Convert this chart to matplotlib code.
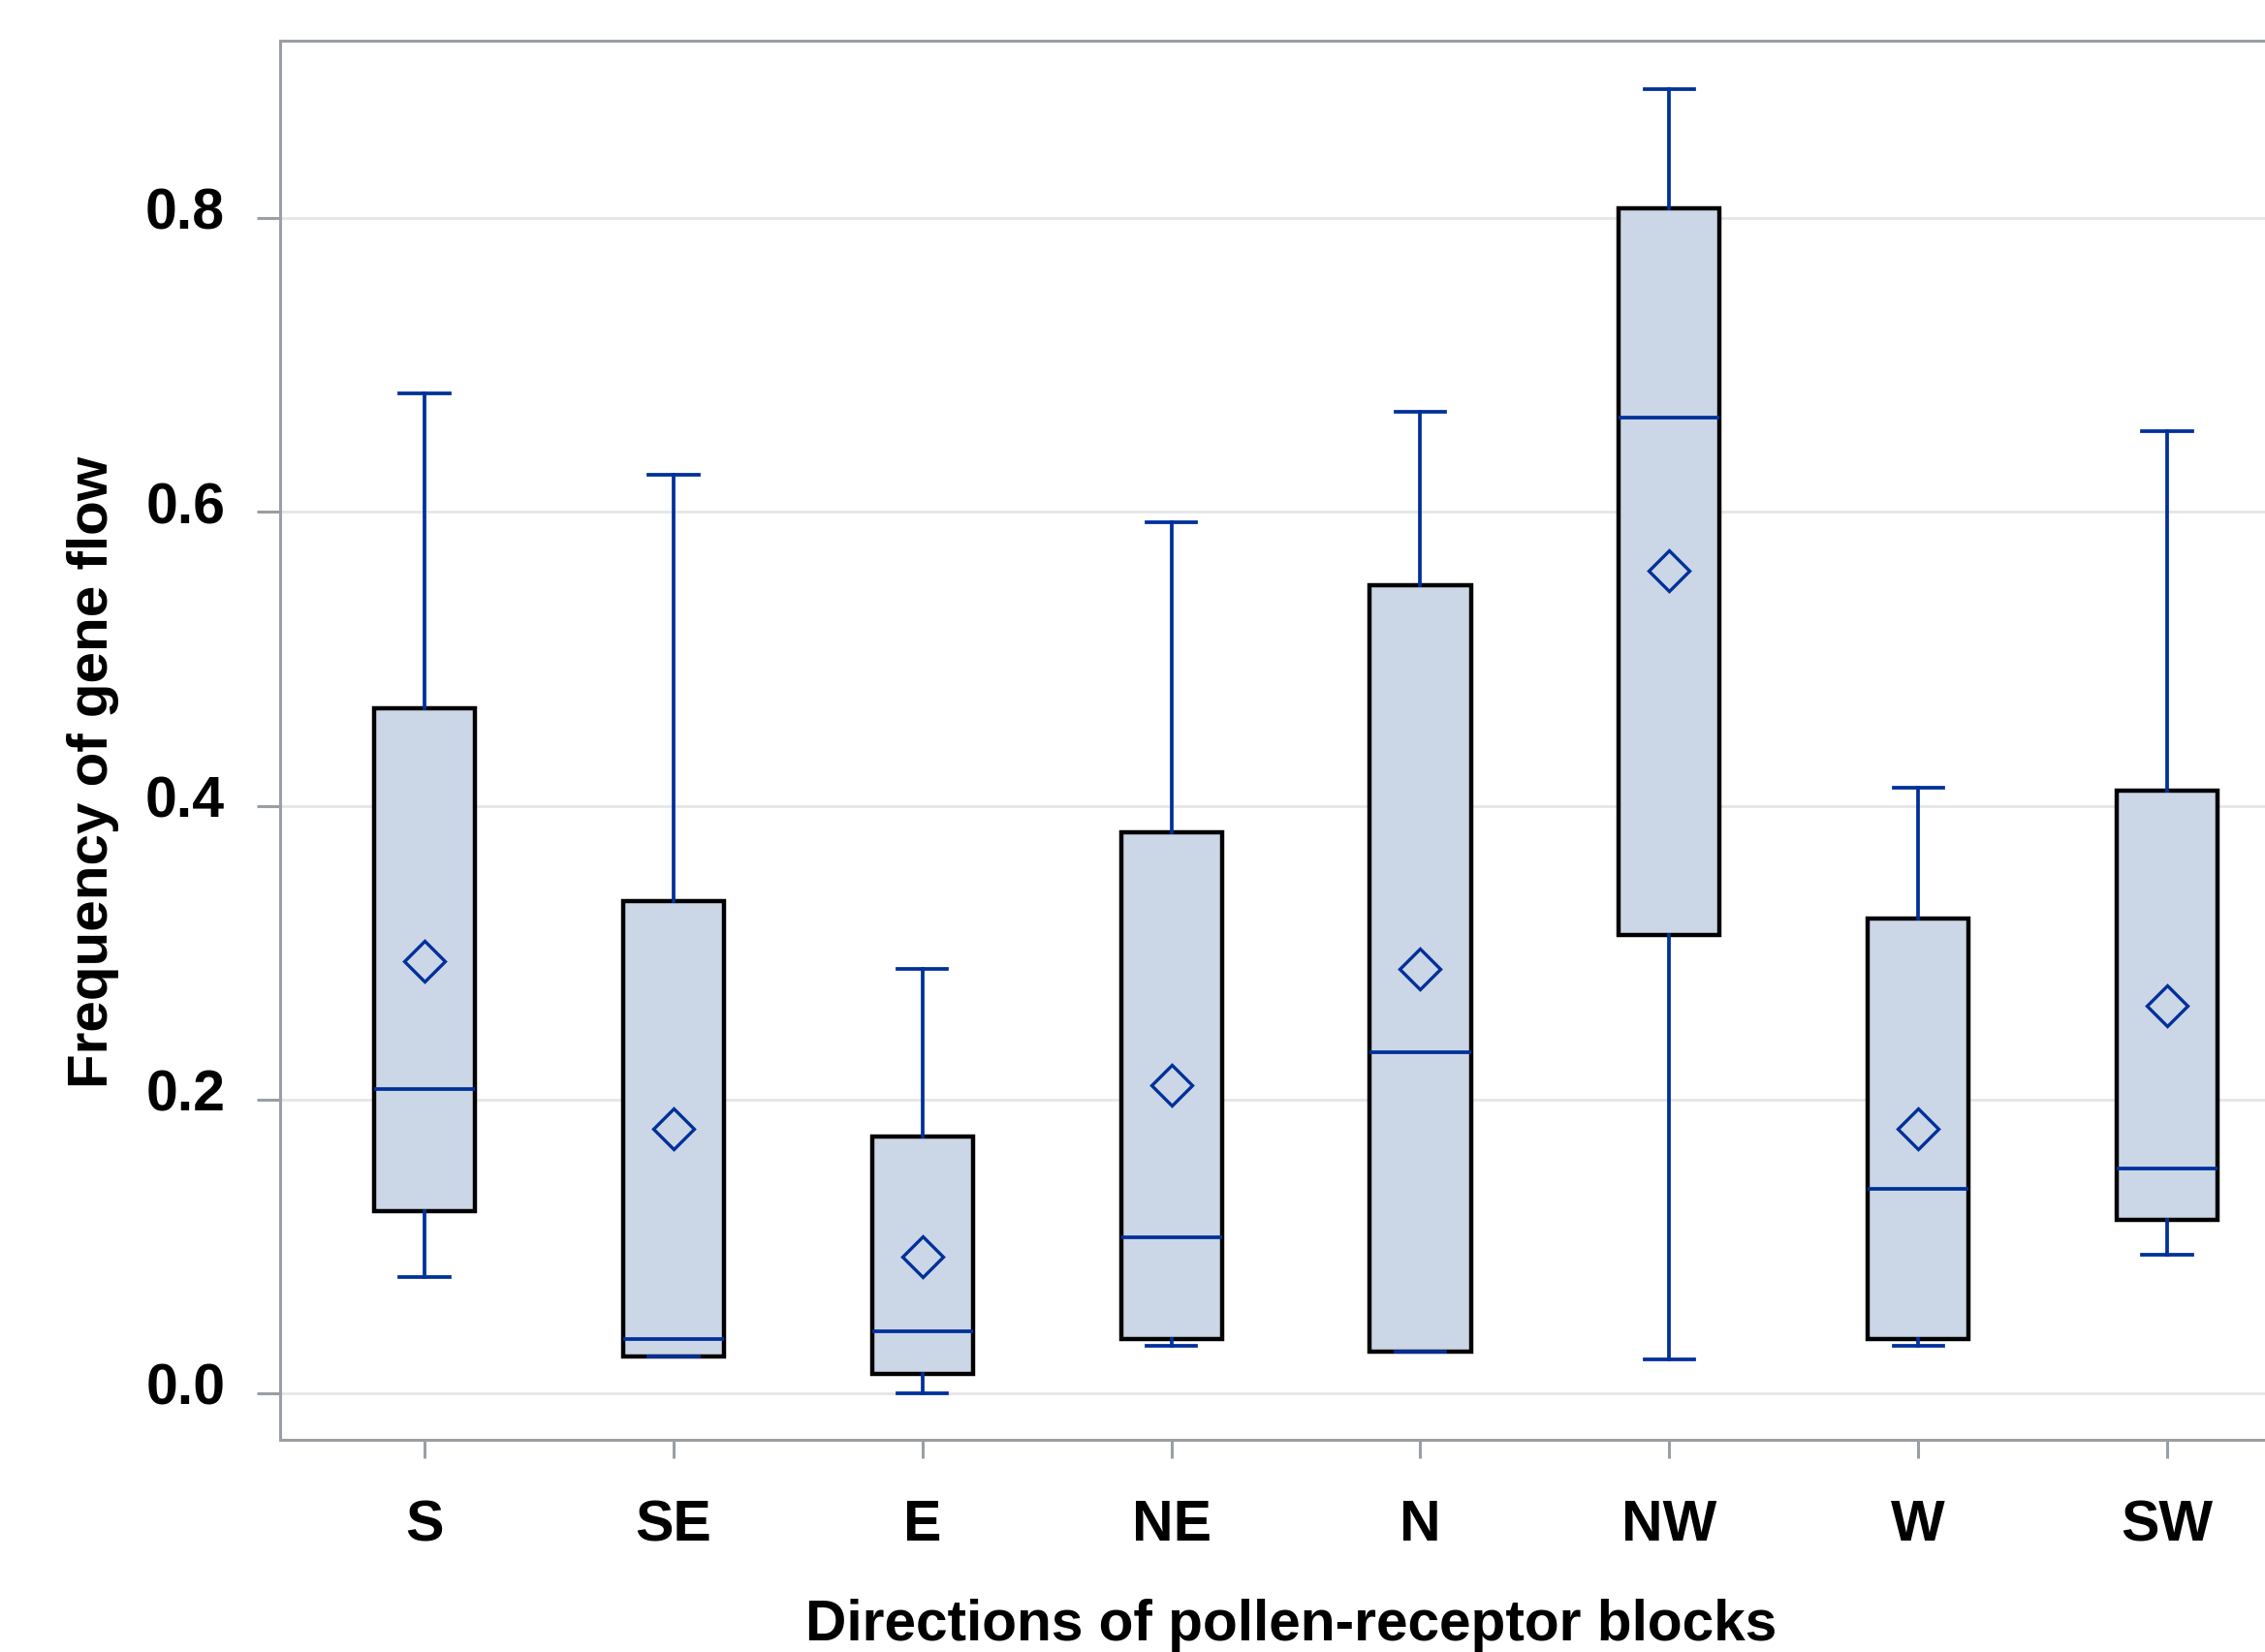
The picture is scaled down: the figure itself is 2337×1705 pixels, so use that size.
import matplotlib.pyplot as plt
import matplotlib.transforms as mtransforms

plt.rcParams['font.family'] = ['Liberation Sans', 'DejaVu Sans']

directions = ['S', 'SE', 'E', 'NE', 'N', 'NW', 'W', 'SW']
whisker_low = [0.079, 0.025, 0.000, 0.032, 0.028, 0.023, 0.032, 0.094]
q1 = [0.124, 0.025, 0.013, 0.037, 0.028, 0.312, 0.037, 0.118]
median = [0.207, 0.037, 0.042, 0.106, 0.232, 0.664, 0.139, 0.153]
q3 = [0.466, 0.335, 0.175, 0.382, 0.550, 0.807, 0.323, 0.410]
whisker_high = [0.681, 0.625, 0.289, 0.593, 0.668, 0.888, 0.412, 0.655]
mean = [0.294, 0.180, 0.093, 0.210, 0.289, 0.560, 0.180, 0.264]

blue = '#00309a'
grey = '#9a9fa4'

stats = []
for i, name in enumerate(directions):
    stats.append({'label': name, 'whislo': whisker_low[i], 'q1': q1[i],
                  'med': median[i], 'q3': q3[i], 'whishi': whisker_high[i],
                  'mean': mean[i], 'fliers': []})

fig = plt.figure(figsize=(23.37, 17.05), dpi=100)
ax = fig.add_axes([0.1237, 0.1285, 0.8763, 0.847])

pos = list(range(1, len(directions) + 1))
ax.bxp(stats, positions=pos, widths=0.405, capwidths=0.2, patch_artist=True,
       showmeans=True, showfliers=False,
       boxprops=dict(facecolor='#cbd6e6', edgecolor='black', linewidth=3.2),
       whiskerprops=dict(color=blue, linewidth=2.7),
       capprops=dict(color=blue, linewidth=2.7, zorder=3),
       medianprops=dict(color=blue, linewidth=2.7, zorder=3),
       meanprops=dict(marker='D', markersize=21, markerfacecolor='none',
                      markeredgecolor=blue, markeredgewidth=2.4, zorder=4))

ax.set_xlim(0.42, 8.393)
ax.set_ylim(-0.0317, 0.921)
ax.set_yticks([0.0, 0.2, 0.4, 0.6, 0.8])
ax.set_yticklabels(['0.0', '0.2', '0.4', '0.6', '0.8'])
ax.set_xticks(pos)
ax.set_xticklabels(directions)

ax.yaxis.grid(True, color='#e6e6e6', linewidth=2.0)
ax.set_axisbelow(True)

for side in ['left', 'bottom', 'top']:
    ax.spines[side].set_color(grey)
    ax.spines[side].set_linewidth(2.2)
ax.spines['right'].set_visible(False)

ax.tick_params(axis='y', length=17, width=2.2, color=grey, pad=24,
               labelsize=42.5, labelcolor='black')
ax.tick_params(axis='x', length=14, width=2.2, color=grey, pad=30,
               labelsize=42.5, labelcolor='black')
for lab in ax.get_yticklabels() + ax.get_xticklabels():
    lab.set_fontweight('bold')

offset = mtransforms.ScaledTranslation(0, 7 / 72, fig.dpi_scale_trans)
for lab in ax.get_yticklabels():
    lab.set_transform(lab.get_transform() + offset)

fig.text(0.570, 0.016, 'Directions of pollen-receptor blocks', ha='center',
         va='center', fontsize=42.2, fontweight='bold')
fig.text(0.041, 0.5325, 'Frequency of gene flow', ha='center', va='center',
         rotation=90, fontsize=42, fontweight='bold')

fig.savefig('out.png', dpi=100)
